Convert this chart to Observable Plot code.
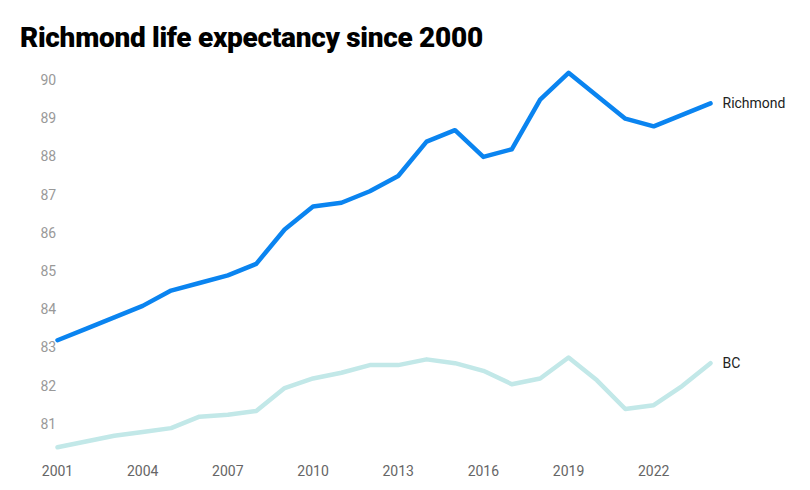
<!DOCTYPE html>
<html><head><meta charset="utf-8">
<script src="https://cdn.jsdelivr.net/npm/d3@7"></script>
<script src="https://cdn.jsdelivr.net/npm/@observablehq/plot@0.6"></script>
<style>
body{margin:0;background:#fff;font-family:Roboto,sans-serif;}
h1{margin:0;padding:21px 0 0 20px;font-size:28px;font-weight:900;height:39px;color:#000;letter-spacing:-0.3px}
</style></head><body>
<h1>Richmond life expectancy since 2000</h1>
<div id="chart"></div>
<script>
const years = d3.range(2001, 2025);
const richmond = [83.2,83.5,83.8,84.1,84.5,84.7,84.9,85.2,86.1,86.7,86.8,87.1,87.5,88.4,88.7,88.0,88.2,89.5,90.2,89.6,89.0,88.8,89.1,89.4];
const bc = [80.4,80.55,80.7,80.8,80.9,81.2,81.25,81.35,81.95,82.2,82.35,82.55,82.55,82.7,82.6,82.4,82.05,82.2,82.75,82.15,81.4,81.5,82.0,82.6];
const xTicks = [2001,2004,2007,2010,2013,2016,2019,2022];
const yTicks = [81,82,83,84,85,86,87,88,89,90];
const series = [{name:"Richmond", values:richmond, color:"#0a84f0"},{name:"BC", values:bc, color:"#c2e8e8"}];
const data = series.flatMap(s => s.values.map((v,i)=>({year:years[i], value:v, name:s.name})));
const last = series.map(s => ({year:years[years.length-1], value:s.values[s.values.length-1], name:s.name}));
const plot = Plot.plot({
  width:810, height:430, marginLeft:57, marginRight:100, marginBottom:28, marginTop:10,
  style:{fontFamily:"Roboto,sans-serif", fontSize:"14px"},
  x:{domain:[2001,2024], ticks:xTicks, tickFormat:d=>String(d), label:null},
  y:{domain:[80,90], range:[402,20], ticks:yTicks, label:null},
  color:{domain:series.map(s=>s.name), range:series.map(s=>s.color)},
  marks:[
    Plot.axisY({ticks:yTicks, tickSize:0, tickPadding:0, textAnchor:"start", dx:-17, fill:"#999", fontSize:14, label:null}),
    Plot.axisX({ticks:xTicks, tickSize:0, tickPadding:4, fill:"#666", fontSize:14, tickFormat:d=>String(d), label:null}),
    Plot.line(data, {x:"year", y:"value", z:"name", stroke:"name", strokeWidth:4.5, curve:"linear", strokeLinejoin:"round"}),
    Plot.text(last, {x:"year", y:"value", text:"name", textAnchor:"start", dx:12, fill:"#222", fontSize:14})
  ]
});
document.getElementById("chart").appendChild(plot);
</script></body></html>
